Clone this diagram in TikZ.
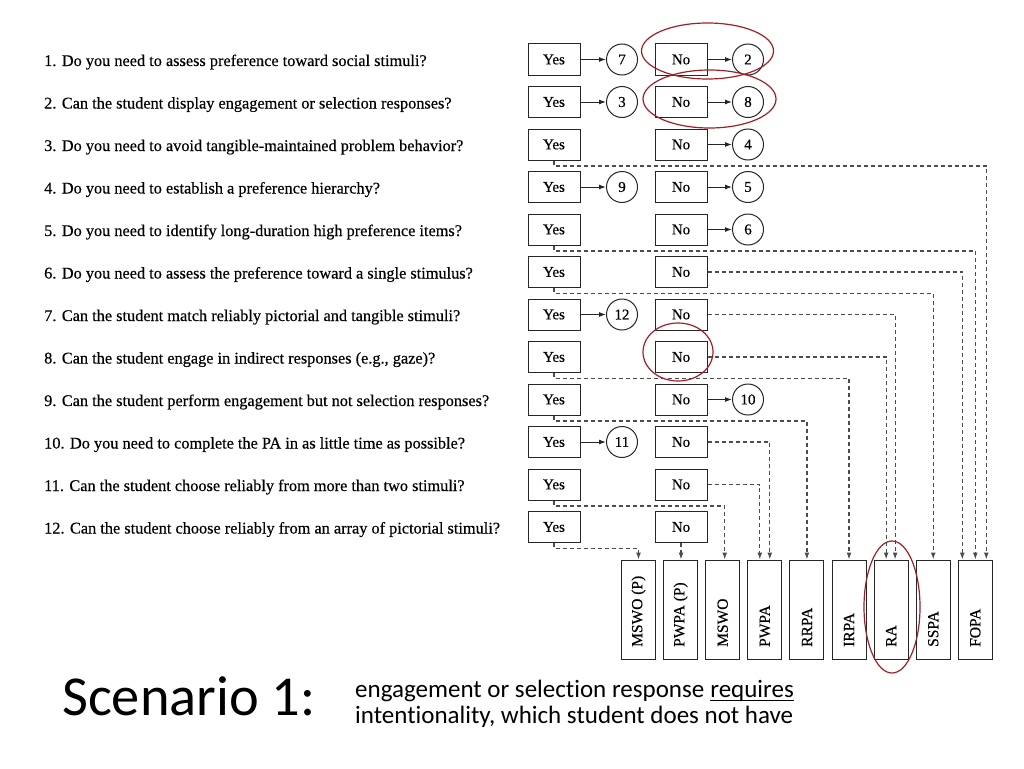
\documentclass[tikz,border=0pt]{standalone}
\usepackage{fontspec}
\setmainfont{Liberation Serif}[FakeBold=0.4]
\newfontfamily\calfont{Carlito}[Ligatures=NoCommon]
\usetikzlibrary{arrows.meta}
\begin{document}
\begin{tikzpicture}[x=1pt,y=-1pt,
  box/.style={draw=black!85,line width=1pt,minimum width=52pt,minimum height=31pt,inner sep=0pt,font=\fontsize{15}{15}\selectfont},
  circ/.style={draw=black!85,line width=1pt,circle,minimum size=31pt,inner sep=0pt,font=\fontsize{15}{15}\selectfont},
  quest/.style={anchor=base west,inner sep=0pt,font=\fontsize{16.3}{16.3}\selectfont},
  solidarr/.style={draw=black!85,line width=1pt,-{Latex[length=7pt,width=5pt]}},
  dasharr/.style={draw=black!70,line width=1.2pt,dash pattern=on 4pt off 3pt,-{Latex[length=7pt,width=5pt]}},
  pabox/.style={draw=black!85,line width=1pt,minimum width=34pt,minimum height=99pt,inner sep=0pt},
  palabel/.style={rotate=90,anchor=west,inner sep=0pt,font=\fontsize{15.5}{15.5}\selectfont},
  ring/.style={draw={rgb,255:red,160;green,30;blue,40},line width=1.2pt},
  captxt/.style={anchor=base west,inner sep=0pt,font=\calfont\fontsize{25}{25}\selectfont}
]
\useasboundingbox (0,0) rectangle (1024,768);

% questions and yes/no boxes
\foreach \i/\t in {
  1/{Do you need to assess preference toward social stimuli?},
  2/{Can the student display engagement or selection responses?},
  3/{Do you need to avoid tangible-maintained problem behavior?},
  4/{Do you need to establish a preference hierarchy?},
  5/{Do you need to identify long-duration high preference items?},
  6/{Do you need to assess the preference toward a single stimulus?},
  7/{Can the student match reliably pictorial and tangible stimuli?},
  8/{Can the student engage in indirect responses (e.g., gaze)?},
  9/{Can the student perform engagement but not selection responses?},
  10/{Do you need to complete the PA in as little time as possible?},
  11/{Can the student choose reliably from more than two stimuli?},
  12/{Can the student choose reliably from an array of pictorial stimuli?}}{
  \pgfmathsetmacro\yy{59.5+42.5*(\i-1)}
  \node[quest] (q\i) at (44,\yy+6.5) {\i. \t};
  \node[box] (y\i) at (554,\yy) {Yes};
  \node[box] (n\i) at (681,\yy) {No};
}

% circles after Yes
\foreach \i/\c in {1/7,2/3,4/9,7/12,10/11}{
  \pgfmathsetmacro\yy{59.5+42.5*(\i-1)}
  \node[circ] (cy\i) at (622,\yy) {\c};
  \draw[solidarr] (y\i) -- (cy\i);
}
% circles after No
\foreach \i/\c in {1/2,2/8,3/4,4/5,5/6,9/10}{
  \pgfmathsetmacro\yy{59.5+42.5*(\i-1)}
  \node[circ] (cn\i) at (748,\yy) {\c};
  \draw[solidarr] (n\i) -- (cn\i);
}

% PA method boxes
\foreach \k/\t in {0/{MSWO (P)},1/{PWPA (P)},2/{MSWO},3/{PWPA},4/{RRPA},5/{IRPA},6/{RA},7/{SSPA},8/{FOPA}}{
  \pgfmathsetmacro\xx{638.5+42.1*\k}
  \node[pabox] (p\k) at (\xx,609.5) {};
  \node[palabel] (l\k) at (\xx,647) {\t};
}

% dashed connectors from Yes boxes
\draw[dasharr] (y3.south) -- ++(0,5.5) -| ([xshift=11pt]p8.north);
\draw[dasharr] (y5.south) -- ++(0,5.5) -| (p8.north);
\draw[dasharr] (y6.south) -- ++(0,5.5) -| (p7.north);
\draw[dasharr] (y8.south) -- ++(0,5.5) -| (p5.north);
\draw[dasharr] (y9.south) -- ++(0,5.5) -| (p4.north);
\draw[dasharr] (y11.south) -- ++(0,5.5) -| ([xshift=2pt]p2.north);
\draw[dasharr] (y12.south) -- ++(0,5.5) -| (p0.north);
% dashed connectors from No boxes
\draw[dasharr] (n6.east) -| ([xshift=-13pt]p8.north);
\draw[dasharr] (n7.east) -| ([xshift=4pt]p6.north);
\draw[dasharr] (n8.east) -| ([xshift=-5pt]p6.north);
\draw[dasharr] (n10.east) -| ([xshift=5pt]p3.north);
\draw[dasharr] (n11.east) -| ([xshift=-5pt]p3.north);
\draw[dasharr] (n12.south) -- (n12.south |- p1.north);

% red highlight rings
\draw[ring] (707.5,51) ellipse [x radius=66, y radius=28];
\draw[ring] (709.5,99) ellipse [x radius=66.5, y radius=29];
\draw[ring] (678,352) ellipse [x radius=35, y radius=29];
\draw[ring] (892,607) ellipse [x radius=28, y radius=66];

% caption
\node[anchor=base west,inner sep=0pt,font=\calfont\fontsize{56.4}{56.4}\selectfont] (sc) at (62,715) {Scenario 1:};
\node[captxt,text depth=2pt] (d1) at (355,697) {engagement or selection response};
\node[captxt,text depth=2pt,xshift=5.7pt] (d1r) at (d1.base east) {requires};
\draw[line width=1pt] ([yshift=-3pt]d1r.base west) -- ([yshift=-3pt]d1r.base east);
\node[captxt,text height=15pt] (d2) at (355,723) {intentionality, which student does not have};
\end{tikzpicture}
\end{document}
